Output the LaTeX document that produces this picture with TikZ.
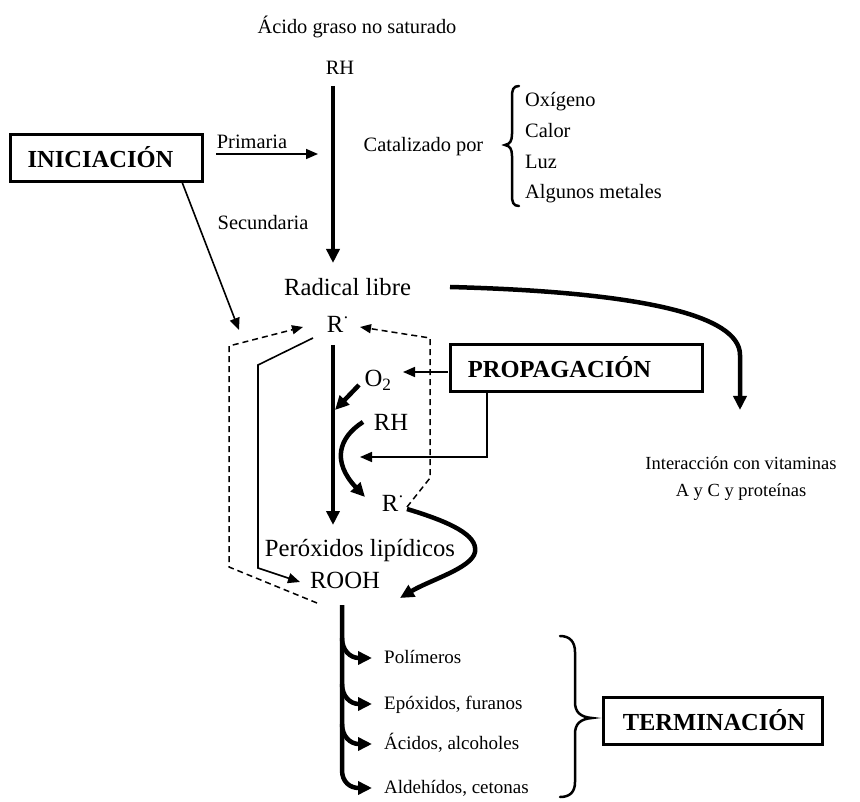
\documentclass[tikz,border=0pt]{standalone}
\usepackage{fontspec}
\setmainfont{Liberation Serif}
\usetikzlibrary{arrows.meta}

\begin{document}
\begin{tikzpicture}[x=1pt,y=-1pt,
  txt/.style={inner sep=0pt, text depth=0pt},
  sm/.style={txt, text height=13.9pt, font=\fontsize{20.4}{24}\selectfont},
  vit/.style={txt, text height=12.6pt, font=\fontsize{18.5}{22}\selectfont},
  lg/.style={txt, text height=16.8pt, font=\fontsize{24.7}{29}\selectfont},
  li/.style={txt, text height=12.9pt, font=\fontsize{19}{23}\selectfont, anchor=west},
  boldtxt/.style={txt, text height=16.7pt, font=\fontsize{24.5}{29}\selectfont\bfseries},
  stagebox/.style={draw, line width=3pt, inner sep=0pt, minimum height=47pt},
  thinarr/.style={line width=1.6pt, -{Triangle[length=12pt,width=10pt]}},
  bigarr/.style={line width=4.5pt, -{Triangle[length=14pt,width=13pt]}},
  dasharr/.style={line width=1.5pt, dash pattern=on 6pt off 4pt, -{Triangle[length=11pt,width=9pt]}},
  bracepath/.style={line width=2.5pt, line cap=round}
]
\useasboundingbox (0,0) rectangle (860,802);

% ---- texts ----
\node[sm] (acido) at (357,27) {Ácido graso no saturado};
\node[sm] (rhtop) at (340,68) {RH};
\node[sm] (prim) at (252,142) {Primaria};
\node[sm] (secu) at (263,223) {Secundaria};
\node[sm] (catal) at (423.5,145) {Catalizado por};
\node[sm, anchor=west] (oxi) at (525,100) {Oxígeno};
\node[sm, anchor=west] (calor) at (525,131) {Calor};
\node[sm, anchor=west] (luz) at (525,162) {Luz};
\node[sm, anchor=west] (metal) at (525,192) {Algunos metales};

\node[lg] (radical) at (347.5,287) {Radical libre};
\node[lg] (rtop) at (335,324) {R\rlap{\textsuperscript{·}}};
\node[lg] (otwo) at (378,378) {O\textsubscript{2}};
\node[lg] (rhmid) at (391,422) {RH};
\node[lg] (rlow) at (390,503) {R\rlap{\textsuperscript{·}}};
\node[lg] (perox) at (360,548) {Peróxidos lipídicos};
\node[lg] (rooh) at (345,580) {ROOH};

\node[vit] (vit1) at (741,463) {Interacción con vitaminas};
\node[vit] (vit2) at (741,490) {A y C y proteínas};

\node[li] (poli) at (384,657) {Polímeros};
\node[li] (epox) at (384,703) {Epóxidos, furanos};
\node[li] (acid) at (384,743) {Ácidos, alcoholes};
\node[li] (alde) at (384,787) {Aldehídos, cetonas};

% ---- stage boxes ----
\node[stagebox, minimum width=192pt] (inic) at (106,158.5) {};
\node[boldtxt] (inict) at (100.5,159) {INICIACIÓN};
\node[stagebox, minimum width=252pt] (prop) at (576,368.5) {};
\node[boldtxt] (propt) at (559.5,369) {PROPAGACIÓN};
\node[stagebox, minimum width=219pt] (term) at (712.5,721) {};
\node[boldtxt] (termt) at (714,722) {TERMINACIÓN};

% ---- coordinates ----
\coordinate (rhbot) at (333,86);
\coordinate (radin) at (333,263);
\coordinate (primA) at (216,154);
\coordinate (primB) at (318,154);
\coordinate (inicout) at (182,182);
\coordinate (inictip) at (239,330);
\coordinate (ld1) at (317,603);
\coordinate (ld2) at (229,567);
\coordinate (ld3) at (229,346);
\coordinate (ldtip) at (303,327);
\coordinate (rd1) at (407,507);
\coordinate (rd2) at (430,478);
\coordinate (rd3) at (430,338);
\coordinate (rdtip) at (360,327);
\coordinate (s1) at (313,338);
\coordinate (s2) at (258,365);
\coordinate (s3) at (258,568);
\coordinate (stip) at (300,582);
\coordinate (mid1) at (333,345);
\coordinate (mid2) at (333,525);
\coordinate (o2a) at (359,385);
\coordinate (o2b) at (335,410);
\coordinate (rha) at (363,422);
\coordinate (rhb) at (365,497);
\coordinate (pa) at (448,372);
\coordinate (pb) at (403,372);
\coordinate (pc) at (487,392);
\coordinate (pd) at (487,457);
\coordinate (pe) at (360,457);
\coordinate (rla) at (407,509);
\coordinate (rlm) at (475,552);
\coordinate (rlb) at (400,598);
\coordinate (rada) at (450,287);
\coordinate (radm) at (740,355);
\coordinate (radb) at (740,410);
\coordinate (bt) at (342,605);
\coordinate (bb) at (342,770);

% ---- connectors ----
\draw[bigarr] (rhbot) -- (radin);
\draw[thinarr] (primA) -- (primB);
\draw[thinarr] (inicout) -- (inictip);
\draw[dasharr] (ld1) -- (ld2) -- (ld3) -- (ldtip);
\draw[dasharr] (rd1) -- (rd2) -- (rd3) -- (rdtip);
\draw[thinarr] (s1) -- (s2) -- (s3) -- (stip);
\draw[bigarr] (mid1) -- (mid2);
\draw[bigarr] (o2a) -- (o2b);
\draw[bigarr] (rha) .. controls (338,438) and (332,462) .. (rhb);
\draw[thinarr] (pa) -- (pb);
\draw[thinarr] (pc) -- (pd) -- (pe);
\draw[bigarr] (rla) .. controls (450,522) and (478,535) .. (rlm)
   .. controls (472,568) and (430,580) .. (rlb);
\draw[bigarr] (rada) .. controls (640,292) and (740,315) .. (radm) -- (radb);

% bottom branches
\draw[bigarr] (bt) -- (bb) .. controls (342,782) and (350,788) .. (372,788);
\draw[bigarr] (342,638) .. controls (342,650) and (350,658) .. (372,658);
\draw[bigarr] (342,684) .. controls (342,696) and (350,704) .. (372,704);
\draw[bigarr] (342,724) .. controls (342,736) and (350,744) .. (372,744);

% ---- braces ----
\draw[bracepath] (519,86) .. controls (513,86) and (512,90) .. (512,97) -- (512,134)
  .. controls (512,141) and (510,144) .. (505,145)
  .. controls (510,146) and (512,149) .. (512,156) -- (512,195)
  .. controls (512,202) and (513,206) .. (519,206);
\draw[bracepath] (560,636) .. controls (570,636) and (575,642) .. (575,652) -- (575,702)
  .. controls (575,712) and (580,717) .. (592,718)
  .. controls (580,719) and (575,724) .. (575,734) -- (575,782)
  .. controls (575,792) and (570,797) .. (560,797);
\end{tikzpicture}
\end{document}
